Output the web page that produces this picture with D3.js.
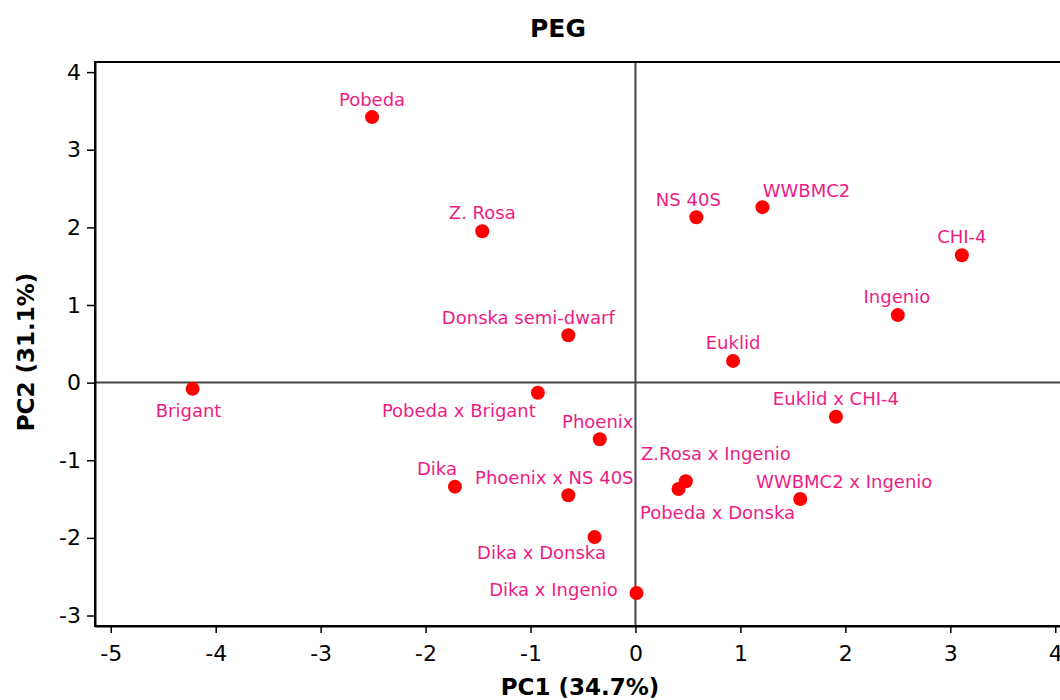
<!DOCTYPE html>
<html><head><meta charset="utf-8">
<script src="https://cdn.jsdelivr.net/npm/d3@7"></script>
<style>body{margin:0;background:#fff;} svg{display:block;}</style>
</head><body>
<svg id="chart" width="1060" height="700"></svg>
<script>
const names = ["Pobeda","Z. Rosa","Donska semi-dwarf","Brigant","Pobeda x Brigant","Phoenix","Dika","Phoenix x NS 40S","Dika x Donska","Dika x Ingenio","Z.Rosa x Ingenio","Pobeda x Donska","WWBMC2 x Ingenio","Euklid x CHI-4","Euklid","Ingenio","CHI-4","NS 40S","WWBMC2"];
const pc1 = [-2.51,-1.46,-0.64,-4.22,-0.93,-0.34,-1.72,-0.64,-0.39,0.01,0.48,0.41,1.57,1.91,0.93,2.50,3.11,0.58,1.21];
const pc2 = [3.42,1.95,0.61,-0.08,-0.13,-0.73,-1.34,-1.45,-1.99,-2.71,-1.27,-1.37,-1.50,-0.44,0.28,0.87,1.64,2.13,2.26];
const xTicks = [-5,-4,-3,-2,-1,0,1,2,3,4];
const yTicks = [-3,-2,-1,0,1,2,3,4];
const title = "PEG", xTitle = "PC1 (34.7%)", yTitle = "PC2 (31.1%)";

// label placement (layout only): offset of label centre from point, px
const labelOffsets = {
  "Pobeda":[0,-18],"Z. Rosa":[0,-19],"Donska semi-dwarf":[-40,-18],"Brigant":[-4,22],
  "Pobeda x Brigant":[-79,18],"Phoenix":[-2,-18],"Dika":[-18,-18],"Phoenix x NS 40S":[-14,-18],
  "Dika x Donska":[-53,15],"Dika x Ingenio":[-83,-4],"Z.Rosa x Ingenio":[30,-28],
  "Pobeda x Donska":[39,24],"WWBMC2 x Ingenio":[44,-18],"Euklid x CHI-4":[0,-18],
  "Euklid":[0,-18],"Ingenio":[-1,-19],"CHI-4":[0,-19],"NS 40S":[-8,-18],"WWBMC2":[44,-17]
};

const svg = d3.select("#chart");
const font = "'DejaVu Sans', Verdana, sans-serif";
const L = 95, T = 62, B = 626;
const x = d3.scaleLinear().domain([-5.15, 4.15]).range([L, 1071]);
const y = d3.scaleLinear().domain([-3.135, 4.13]).range([B, T]);

// zero lines
svg.append("line").attr("x1", x(0)).attr("x2", x(0)).attr("y1", T).attr("y2", B)
  .attr("stroke", "#444").attr("stroke-width", 2);
svg.append("line").attr("x1", L).attr("x2", 1071).attr("y1", y(0)).attr("y2", y(0))
  .attr("stroke", "#444").attr("stroke-width", 2);

// frame
svg.append("rect").attr("x", L).attr("y", T).attr("width", 1071 - L).attr("height", B - T)
  .attr("fill", "none").attr("stroke", "#000").attr("stroke-width", 2);

// axes
const xAxis = svg.append("g").attr("transform", `translate(0,${B})`)
  .call(d3.axisBottom(x).tickValues(xTicks).tickSizeInner(7).tickSizeOuter(0).tickPadding(12).tickFormat(d3.format("d")));
const yAxis = svg.append("g").attr("transform", `translate(${L},0)`)
  .call(d3.axisLeft(y).tickValues(yTicks).tickSizeInner(8).tickSizeOuter(0).tickPadding(6).tickFormat(d3.format("d")));
[xAxis, yAxis].forEach(g => {
  g.select(".domain").attr("stroke", "#000").attr("stroke-width", 2);
  g.selectAll(".tick line").attr("stroke", "#000").attr("stroke-width", 1.5);
  g.selectAll(".tick text").attr("fill", "#000").style("font-family", font).style("font-size", "22px");
});
xAxis.selectAll(".tick text").text(d => d < 0 ? "-" + Math.abs(d) : d);
yAxis.selectAll(".tick text").text(d => d < 0 ? "-" + Math.abs(d) : d);

// points
const data = names.map((n, i) => ({name: n, x: pc1[i], y: pc2[i]}));
svg.append("g").selectAll("circle").data(data).join("circle")
  .attr("cx", d => x(d.x)).attr("cy", d => y(d.y)).attr("r", 7).attr("fill", "#FF0000");

// labels
svg.append("g").selectAll("text").data(data).join("text")
  .attr("x", d => x(d.x) + labelOffsets[d.name][0])
  .attr("y", d => y(d.y) + labelOffsets[d.name][1])
  .attr("text-anchor", "middle").attr("dominant-baseline", "central")
  .attr("fill", "#EE1C84").style("font-family", font).style("font-size", "18px")
  .text(d => d.name);

// titles
svg.append("text").attr("x", 558).attr("y", 28).attr("text-anchor", "middle")
  .attr("dominant-baseline", "central").style("font-family", font).style("font-weight", "bold")
  .style("font-size", "25px").text(title);
svg.append("text").attr("x", 580).attr("y", 687).attr("text-anchor", "middle")
  .attr("dominant-baseline", "central").style("font-family", font).style("font-weight", "bold")
  .style("font-size", "23px").text(xTitle);
svg.append("text").attr("transform", "translate(26,352) rotate(-90)").attr("text-anchor", "middle")
  .attr("dominant-baseline", "central").style("font-family", font).style("font-weight", "bold")
  .style("font-size", "23px").text(yTitle);
</script>
</body></html>
